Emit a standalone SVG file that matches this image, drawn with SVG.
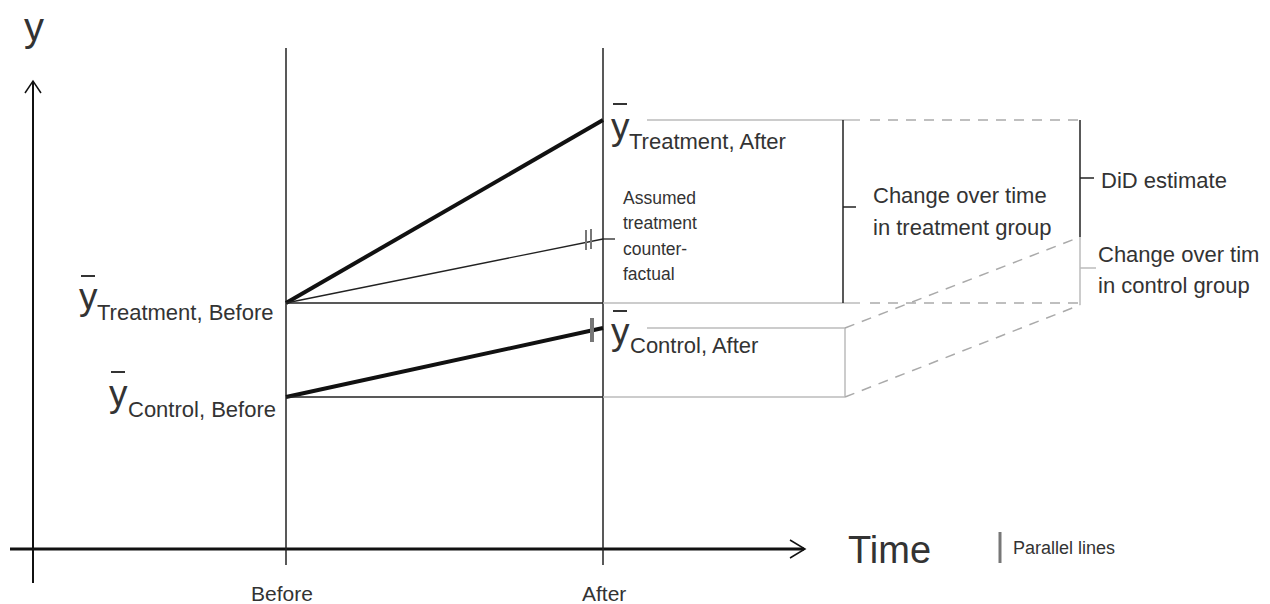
<svg xmlns="http://www.w3.org/2000/svg" width="1270" height="604" viewBox="0 0 1270 604">
<style>
text{font-family:"Liberation Sans",Arial,sans-serif;fill:#333}
.big{font-size:37px}
.sub{font-size:22px}
.lbl{font-size:22px}
.cf{font-size:17.5px}
.ax{stroke:#111;fill:none}
.thin{stroke:#222;stroke-width:1.5;fill:none}
.grey{stroke:#bbb;stroke-width:1.5;fill:none}
.dash{stroke:#aaa;stroke-width:1.5;fill:none;stroke-dasharray:10 8}
.par{stroke:#777}
</style>
<rect width="1270" height="604" fill="#fff"/>
<g id="axes">
<line class="ax" x1="33" y1="81" x2="33" y2="583" stroke-width="2"/>
<polyline class="ax" points="25,93 33,81 41,93" stroke-width="1.5"/>
<line class="ax" x1="10" y1="549" x2="804" y2="549" stroke-width="3"/>
<polyline class="ax" points="790,540 805,549 790,558" stroke-width="1.5"/>
<line class="thin" x1="286" y1="48" x2="286" y2="565"/>
<line class="thin" x1="603" y1="48" x2="603" y2="565"/>
<text x="24" y="41" style="font-size:40px">y</text>
<text x="848" y="563" style="font-size:38px">Time</text>
<text x="251" y="601" style="font-size:21px">Before</text>
<text x="582" y="601" style="font-size:21px">After</text>
</g>
<g id="connectors">
<line x1="286" y1="303" x2="603" y2="120" stroke="#111" stroke-width="4"/>
<line x1="286" y1="397" x2="603" y2="328" stroke="#111" stroke-width="4"/>
<line x1="286" y1="303" x2="603" y2="239" stroke="#222" stroke-width="1.3"/>
<line x1="603" y1="239" x2="615" y2="239" stroke="#222" stroke-width="1.3"/>
<line class="thin" x1="286" y1="303" x2="603" y2="303"/>
<line class="thin" x1="286" y1="397" x2="603" y2="397"/>
<line class="par" x1="586" y1="230" x2="586" y2="250" stroke-width="2"/>
<line class="par" x1="591" y1="229" x2="591" y2="249" stroke-width="2"/>
<line class="par" x1="592" y1="318" x2="592" y2="342" stroke-width="4"/>
<line class="grey" x1="647" y1="120" x2="860" y2="120"/>
<line class="dash" x1="870" y1="120" x2="1080" y2="120"/>
<line class="grey" x1="603" y1="303" x2="860" y2="303"/>
<line class="dash" x1="870" y1="303" x2="1080" y2="303"/>
<line class="grey" x1="647" y1="328" x2="845" y2="328"/>
<line class="grey" x1="603" y1="397" x2="845" y2="397"/>
<line class="grey" x1="845" y1="328" x2="845" y2="397"/>
<line class="dash" x1="845" y1="328" x2="1080" y2="237"/>
<line class="dash" x1="845" y1="397" x2="1080" y2="305"/>
<line class="thin" x1="843" y1="120" x2="843" y2="303"/>
<line class="thin" x1="843" y1="207" x2="856" y2="207"/>
<line class="thin" x1="1080" y1="120" x2="1080" y2="237"/>
<line class="thin" x1="1080" y1="178" x2="1094" y2="178"/>
<line class="grey" x1="1080" y1="237" x2="1080" y2="305"/>
<line class="grey" x1="1080" y1="268" x2="1096" y2="268"/>
</g>
<g id="treatment-before">
<text x="79" y="309" class="big">y</text>
<line x1="81" y1="276" x2="95" y2="276" stroke="#333" stroke-width="2"/>
<text x="97" y="320" class="sub">Treatment, Before</text>
</g>
<g id="control-before">
<text x="109" y="406" class="big">y</text>
<line x1="111" y1="372" x2="125" y2="372" stroke="#333" stroke-width="2"/>
<text x="128" y="417" class="sub">Control, Before</text>
</g>
<g id="treatment-after">
<text x="611" y="139" class="big">y</text>
<line x1="613" y1="104" x2="627" y2="104" stroke="#333" stroke-width="2"/>
<text x="629" y="149" class="sub">Treatment, After</text>
</g>
<g id="control-after">
<text x="611" y="344" class="big">y</text>
<line x1="613" y1="311" x2="627" y2="311" stroke="#333" stroke-width="2"/>
<text x="630" y="353" class="sub">Control, After</text>
</g>
<g id="counterfactual">
<text x="623" y="204" class="cf">Assumed</text>
<text x="623" y="229" class="cf">treatment</text>
<text x="623" y="255" class="cf">counter-</text>
<text x="623" y="280" class="cf">factual</text>
</g>
<g id="change-treatment">
<text x="873" y="203" class="lbl">Change over time</text>
<text x="873" y="235" class="lbl">in treatment group</text>
</g>
<g id="did">
<text x="1101" y="188" class="lbl">DiD estimate</text>
</g>
<g id="change-control">
<text x="1098" y="262" class="lbl">Change over tim</text>
<text x="1098" y="293" class="lbl">in control group</text>
</g>
<g id="legend">
<line x1="1000" y1="532" x2="1000" y2="563" stroke="#777" stroke-width="3"/>
<text x="1013" y="554" style="font-size:18px">Parallel lines</text>
</g>
</svg>
